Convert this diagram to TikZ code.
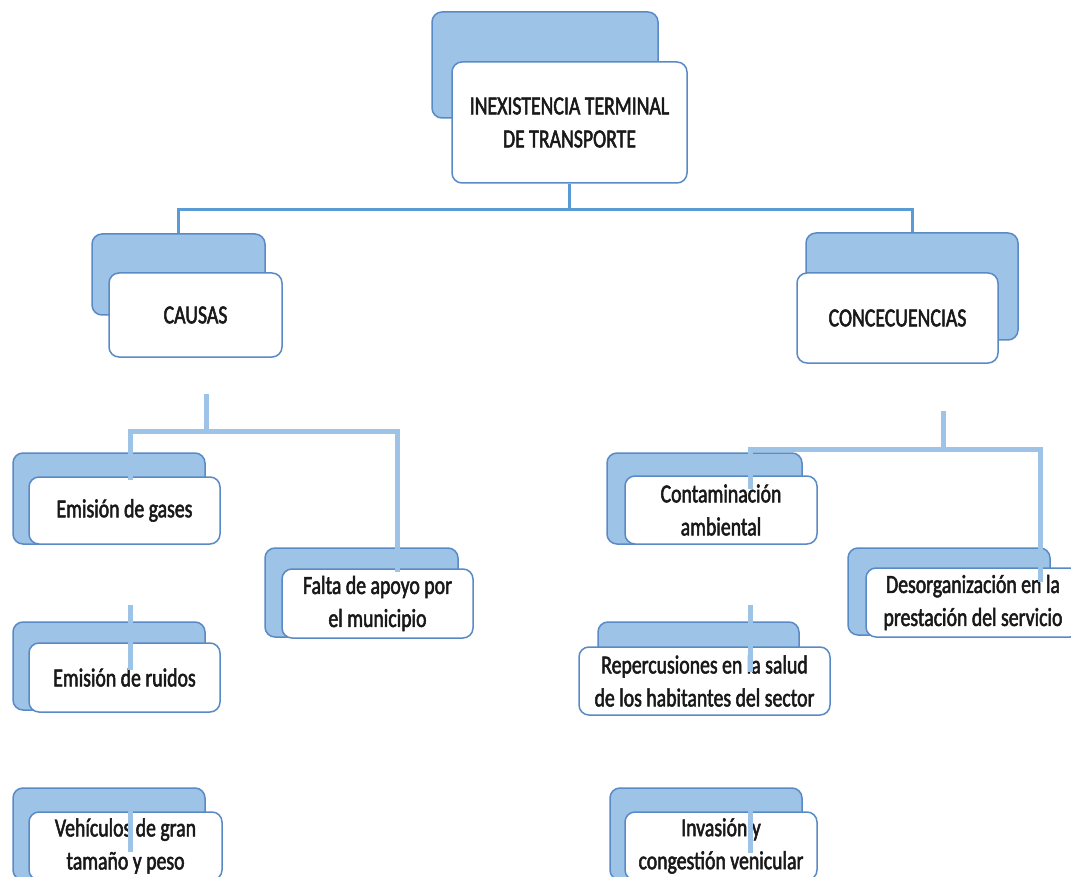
\documentclass[tikz,border=0pt]{standalone}
\usepackage{fontspec}
\setmainfont{Carlito}[FakeStretch=0.76,FakeBold=2]
\definecolor{boxfill}{HTML}{9DC3E6}
\definecolor{boxedge}{HTML}{5A8AC6}
\definecolor{trunkblue}{HTML}{5B9BD5}
\definecolor{lineblue}{HTML}{9DC3E6}
\begin{document}
\begin{tikzpicture}
[x=1pt,y=-1pt,
 backdecorate/.style={shape=rectangle,draw=boxedge,fill=boxfill,line width=1.5pt,rounded corners=10pt,inner sep=0pt},%
 frontdecorate/.style={shape=rectangle,draw=boxedge,fill=white,line width=1.5pt,rounded corners=10pt,inner sep=0pt,
   align=center,text=black!90,font=\fontsize{26}{33}\selectfont},%
 trunkdecorate/.style={-,draw=trunkblue,line width=3pt},%
 linedecorate/.style={-,draw=lineblue,line width=5pt}]
\useasboundingbox (0,0) rectangle (1071,877);
%% boxes: blue one behind, white one with the text in front
\foreach \nodename/\x/\y/\w/\h/\bx/\by/\bw/\bh/\boxtext in {
  inexist/569.5/122.5/235/121/545/65/226/106/{INEXISTENCIA TERMINAL\\DE TRANSPORTE},
  causas/195.5/315/173/84/178.5/274.5/173/81/{CAUSAS},
  consec/897.5/318/201/90/912/286.5/212/107/{CONCECUENCIAS},
  gases/124.5/510.5/191/67/109/498.5/192/91/{Emisión de gases},
  apoyo/377.5/603.5/191/69/361.5/592.5/193/89/{Falta de apoyo por\\el municipio},
  ruidos/124.5/677.5/191/69/109/666/192/88/{Emisión de ruidos},
  vehic/125.5/846/193/68/109/834/192/92/{Vehículos de gran\\tamaño y peso},
  contam/721/510/192/68/704.5/498.5/195/91/{Contaminación\\ambiental},
  desorg/973/602.5/214/69/949/591.5/202/87/{Desorganización en la\\prestación del servicio},
  reperc/704.5/681/251/68/698.5/661/201/78/{Repercusiones en la salud\\de los habitantes del sector},
  invas/721/846/192/68/706/834/192/92/{Invasión y\\congestión venicular}}
{
  \node (\nodename-back) at (\bx,\by) [backdecorate,minimum width=\bw,minimum height=\bh] {};
  \node (\nodename) at (\x,\y) [frontdecorate,minimum width=\w,minimum height=\h] {\boxtext};
}
%% top connector
\draw[trunkdecorate] (inexist.south) -- ++(0,26) coordinate (fork) -| (causas-back.north);
\draw[trunkdecorate] (fork) -| (consec-back.north);
%% loose ends of the lower lines
\foreach \coordname/\x/\y in {
  causastail/206/394, causasfork/206/431, gasesend/130/480, apoyoend/397/572,
  ruidostop/130/605, ruidosend/130/670, vehictop/130/791, vehicend/130/852,
  consectail/943/411, consecfork/943/449, contamend/750/489, desorgend/1040/582,
  reperctop/750/605, repercend/750/672, invastop/750/792, invasend/750/853}
{
  \coordinate (\coordname) at (\x,\y);
}
%% lower lines
\draw[linedecorate] (causastail) -- (causasfork);
\draw[linedecorate] (gasesend) |- (causasfork) -| (apoyoend);
\draw[linedecorate] (consectail) -- (consecfork);
\draw[linedecorate] (contamend) |- (consecfork) -| (desorgend);
\path
\foreach \startnode/\endnode in {ruidostop/ruidosend, vehictop/vehicend, reperctop/repercend, invastop/invasend} {
  (\startnode) edge[linedecorate] (\endnode)
};
\end{tikzpicture}
\end{document}
